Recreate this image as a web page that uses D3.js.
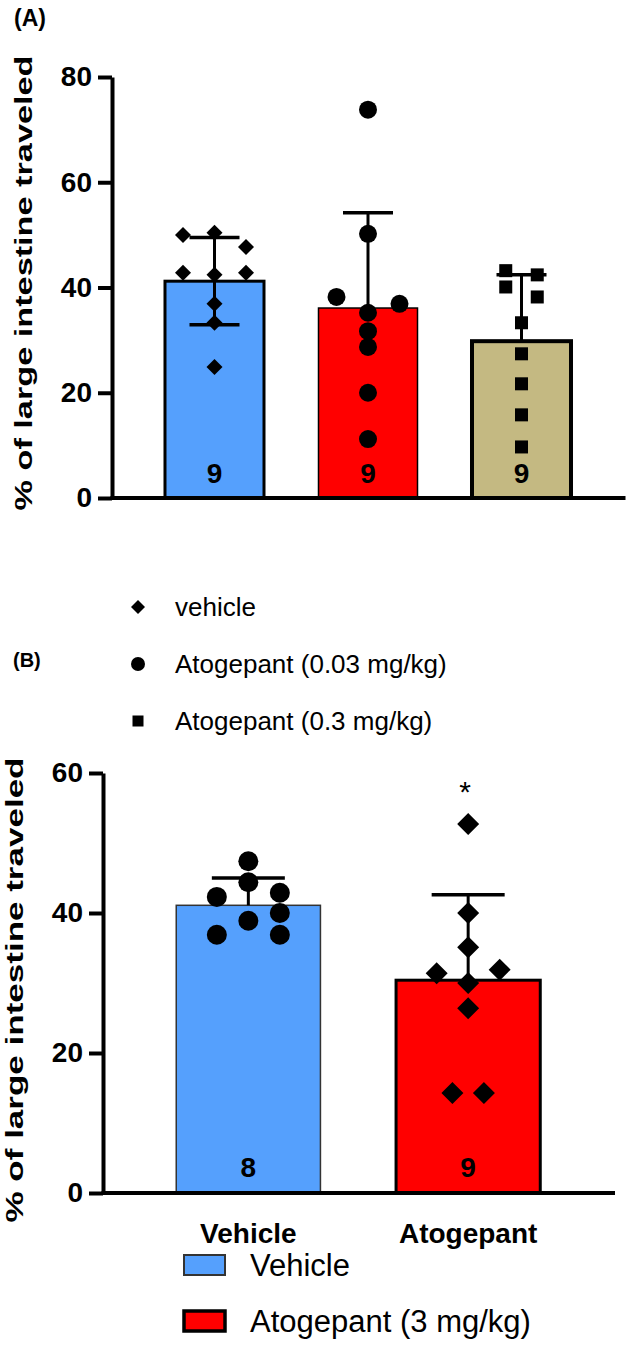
<!DOCTYPE html>
<html><head><meta charset="utf-8">
<script src="https://cdn.jsdelivr.net/npm/d3@7"></script>
<style>
body{margin:0;background:#fff;}
text{font-family:"Liberation Sans",Arial,sans-serif;}
</style></head>
<body><svg id="c" width="632" height="1346"></svg>
<script>
// ---------- Panel A data ----------
const groupsA = ["vehicle", "Atogepant (0.03 mg/kg)", "Atogepant (0.3 mg/kg)"];
const meansA = [41.2, 36.1, 29.8];
const sdA = [8.3, 18.1, 12.6];
const lowerBarA = [true, false, false];
const nA = [9, 9, 9];
const colorsA = ["#55A0FD", "#FF0000", "#C4B982"];
const strokeA = [3, 1.5, 4];
const shapesA = ["diamond", "circle", "square"];
// points: [value, column offset]
const pointsA = [
  [[50.0,-1],[50.4,0],[47.7,1],[42.8,-1],[42.4,0],[42.8,1],[36.9,0],[33.3,0],[24.9,0]],
  [[73.8,0],[50.2,0],[38.2,-1],[36.9,1],[35.2,0],[31.7,0],[28.7,0],[20.0,0],[11.2,0]],
  [[43.2,-0.5],[42.4,0.5],[40.1,-0.5],[38.2,0.5],[33.3,0],[27.4,0],[21.7,0],[15.8,0],[9.7,0]]
];
const ticksA = [0, 20, 40, 60, 80];

// ---------- Panel B data ----------
const groupsB = ["Vehicle", "Atogepant"];
const legendB = ["Vehicle", "Atogepant (3 mg/kg)"];
const meansB = [41.1, 30.4];
const sdB = [3.9, 12.2];
const nB = [8, 9];
const colorsB = ["#55A0FD", "#FF0000"];
const strokeColB = ["#333", "#000"];
const strokeB = [1.5, 3];
const shapesB = ["circle", "diamond"];
const pointsB = [
  [[47.4,0],[44.4,0],[42.3,-1],[42.9,1],[40.0,1],[38.9,0],[36.9,-1],[36.9,1]],
  [[52.7,0],[40.0,0],[35.1,0],[31.4,-1],[31.9,1],[30.0,0],[26.4,0],[14.3,-0.5],[14.3,0.5]]
];
const ticksB = [0, 20, 40, 60];
const starB = ["", "*"];

const yLabel = "% of large intestine traveled";

const svg = d3.select("#c");

function marker(g, shape, cx, cy, s) {
  if (shape === "diamond") {
    g.append("path").attr("d", `M${cx},${cy-s}L${cx+s},${cy}L${cx},${cy+s}L${cx-s},${cy}Z`).attr("fill", "#000");
  } else if (shape === "circle") {
    g.append("circle").attr("cx", cx).attr("cy", cy).attr("r", s).attr("fill", "#000");
  } else {
    g.append("rect").attr("x", cx - s).attr("y", cy - s).attr("width", 2*s).attr("height", 2*s).attr("fill", "#000");
  }
}

function panel(opts) {
  const g = svg.append("g");
  const y = d3.scaleLinear().domain(opts.domain).range(opts.yRange);
  const x = d3.scaleBand().domain(opts.groups).range(opts.xRange)
    .paddingInner(opts.padIn).paddingOuter(opts.padOut);
  const bw = x.bandwidth();
  // bars
  opts.groups.forEach((grp, i) => {
    g.append("rect")
      .attr("x", x(grp)).attr("y", y(opts.means[i]))
      .attr("width", bw).attr("height", y(0) - y(opts.means[i]))
      .attr("fill", opts.colors[i]).attr("stroke", opts.strokeCol[i])
      .attr("stroke-width", opts.strokeW[i]);
  });
  // error bars
  opts.groups.forEach((grp, i) => {
    const cx = x(grp) + bw / 2;
    const top = y(opts.means[i] + opts.sd[i]);
    const lowV = opts.lower[i] ? opts.means[i] - opts.sd[i] : opts.means[i];
    g.append("line").attr("x1", cx).attr("x2", cx).attr("y1", top).attr("y2", y(lowV))
      .attr("stroke", "#000").attr("stroke-width", 3);
    g.append("line").attr("x1", cx - opts.cap).attr("x2", cx + opts.cap).attr("y1", top).attr("y2", top)
      .attr("stroke", "#000").attr("stroke-width", 3.5);
    if (opts.lower[i]) {
      const b = y(lowV);
      g.append("line").attr("x1", cx - opts.cap).attr("x2", cx + opts.cap).attr("y1", b).attr("y2", b)
        .attr("stroke", "#000").attr("stroke-width", 3.5);
    }
  });
  // points
  opts.groups.forEach((grp, i) => {
    const cx = x(grp) + bw / 2;
    opts.points[i].forEach(p => {
      marker(g, opts.shapes[i], cx + p[1] * opts.jit, y(p[0]), opts.msize[i]);
    });
  });
  // n labels
  opts.groups.forEach((grp, i) => {
    g.append("text").attr("x", x(grp) + bw / 2).attr("y", y(0) - opts.nOffset)
      .attr("text-anchor", "middle").attr("font-size", 28).attr("font-weight", "bold")
      .text(opts.n[i]);
  });
  // axes
  const ax = g.append("g").attr("transform", `translate(${opts.xRange[0]+1.5},0)`)
    .call(d3.axisLeft(y).tickValues(opts.ticks).tickSize(14).tickSizeOuter(0).tickPadding(6));
  ax.select(".domain").attr("stroke", "#000").attr("stroke-width", 4);
  ax.selectAll(".tick line").attr("stroke", "#000").attr("stroke-width", 4);
  ax.selectAll(".tick text").attr("font-size", 28).attr("font-weight", "bold")
    .attr("font-family", "Liberation Sans, Arial, sans-serif").attr("fill", "#000");
  g.append("line").attr("x1", opts.xRange[0]).attr("x2", opts.xRange[1])
    .attr("y1", y(0)).attr("y2", y(0)).attr("stroke", "#000").attr("stroke-width", 4);
  // y label
  g.append("text")
    .attr("transform", `translate(${opts.labelX},${opts.labelY}) rotate(-90)`)
    .attr("text-anchor", "middle").attr("font-size", 24).attr("font-weight", "bold")
    .attr("textLength", opts.labelLen).attr("lengthAdjust", "spacingAndGlyphs")
    .text(yLabel);
  return {x, y, g, bw};
}

// ---------- Panel A ----------
svg.append("text").attr("x", 14).attr("y", 26).attr("font-size", 23).attr("font-weight", "bold").text("(A)");
panel({
  groups: groupsA, means: meansA, sd: sdA, lower: lowerBarA, n: nA,
  colors: colorsA, strokeCol: ["#000", "#000", "#000"], strokeW: strokeA,
  shapes: shapesA, msize: [8, 9, 6.5], points: pointsA, jit: 31.5,
  domain: [0, 80], yRange: [498, 77], xRange: [110.5, 625.5], padIn: 0.355, padOut: 0.355,
  ticks: ticksA, cap: 25, nOffset: 15,
  labelX: 32, labelY: 283, labelLen: 455
});

// ---------- Middle legend ----------
svg.append("text").attr("x", 13).attr("y", 667).attr("font-size", 20).attr("font-weight", "bold").text("(B)");
const legY = [616, 673, 730];
groupsA.forEach((grp, i) => {
  const lg = svg.append("g");
  marker(lg, shapesA[i], 138, legY[i] - 9, [7, 7, 5.5][i]);
  lg.append("text").attr("x", 175).attr("y", legY[i]).attr("font-size", 26).text(grp);
});

// ---------- Panel B ----------
const pB = panel({
  groups: groupsB, means: meansB, sd: sdB, lower: [false, false], n: nB,
  colors: colorsB, strokeCol: strokeColB, strokeW: strokeB,
  shapes: shapesB, msize: [10, 11], points: pointsB, jit: 31.5,
  domain: [0, 60], yRange: [1193, 773], xRange: [101.5, 615], padIn: 0.344, padOut: 0.34,
  ticks: ticksB, cap: 36.5, nOffset: 16,
  labelX: 23, labelY: 990, labelLen: 465
});
groupsB.forEach((grp, i) => {
  const cx = pB.x(grp) + pB.bw / 2;
  svg.append("text").attr("x", cx).attr("y", 1243).attr("text-anchor", "middle")
    .attr("font-size", 28).attr("font-weight", "bold").text(grp);
  if (starB[i]) {
    svg.append("text").attr("x", cx - 3).attr("y", pB.y(58) + 15).attr("text-anchor", "middle")
      .attr("font-size", 30).text(starB[i]);
  }
});
// bottom legend
const legBY = [1276, 1332];
legendB.forEach((lab, i) => {
  svg.append("rect").attr("x", 184).attr("y", legBY[i] - 21).attr("width", 41).attr("height", 20)
    .attr("fill", colorsB[i]).attr("stroke", strokeColB[i]).attr("stroke-width", strokeB[i] + 0.5);
  svg.append("text").attr("x", 250).attr("y", legBY[i]).attr("font-size", 31).text(lab);
});
</script></body></html>
